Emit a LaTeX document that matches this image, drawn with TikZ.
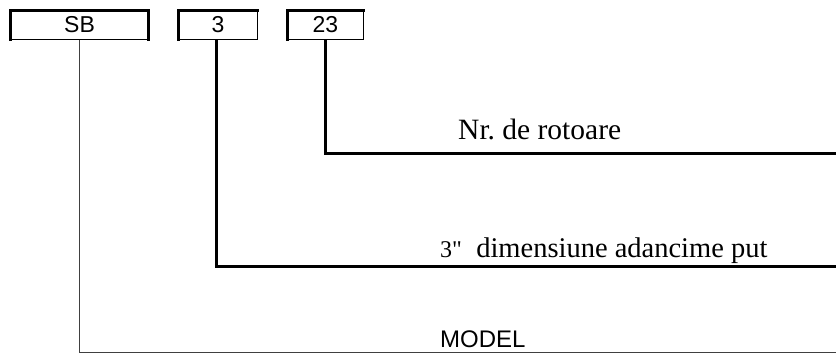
\documentclass[tikz,border=0pt]{standalone}
\usepackage{fontspec}
\setmainfont{Liberation Serif}
\newfontfamily\arialf{Liberation Sans}
\tikzset{
  codebox/.style={draw=black, line width=1pt, minimum height=28pt, inner sep=0pt,
    font=\arialf\fontsize{23}{23}\selectfont},
  thickedge/.style={line width=3pt, line cap=rect},
  thinlink/.style={draw=black!75, line width=1.4pt},
  boldlink/.style={draw=black, line width=3pt},
  serifl/.style={anchor=base west, inner sep=0pt, font=\fontsize{28.5}{28.5}\selectfont},
  sansl/.style={anchor=base west, inner sep=0pt, font=\arialf\fontsize{24}{24}\selectfont},
}
\begin{document}
\begin{tikzpicture}[x=1pt,y=-1pt]
\useasboundingbox (0,0) rectangle (836,354);
% code boxes
\node[codebox, minimum width=137pt] (sb) at (79.5,25) {SB};
\node[codebox, minimum width=78pt] (b3) at (218,25) {3};
\node[codebox, minimum width=75pt] (b23) at (325.5,25) {23};
\draw[thickedge] (sb.south west) -- (sb.north west) -- (sb.north east) -- (sb.south east);
\draw[thickedge] (b3.south west) -- (b3.north west) -- (b3.north east);
\draw[thickedge] (b23.south west) -- (b23.north west) -- (b23.north east);
% ends
\coordinate (e1) at (836,352.5);
\coordinate (e2) at (836,266);
\coordinate (e3) at (836,153);
% connectors
\draw[thinlink] (sb.south) |- (e1);
\draw[boldlink] ([xshift=-1.5pt]b3.south) |- (e2);
\draw[boldlink] (b23.south) |- (e3);
% labels
\node[serifl, font=\fontsize{29.5}{29.5}\selectfont] (lrot) at (458,139) {Nr.\ de rotoare};
\node[serifl] (ldim) at (440,257) {{\fontsize{24}{24}\selectfont 3\textquotedbl}\ \ dimensiune adancime put};
\node[sansl] (lmod) at (440,347) {MODEL};
\end{tikzpicture}
\end{document}
